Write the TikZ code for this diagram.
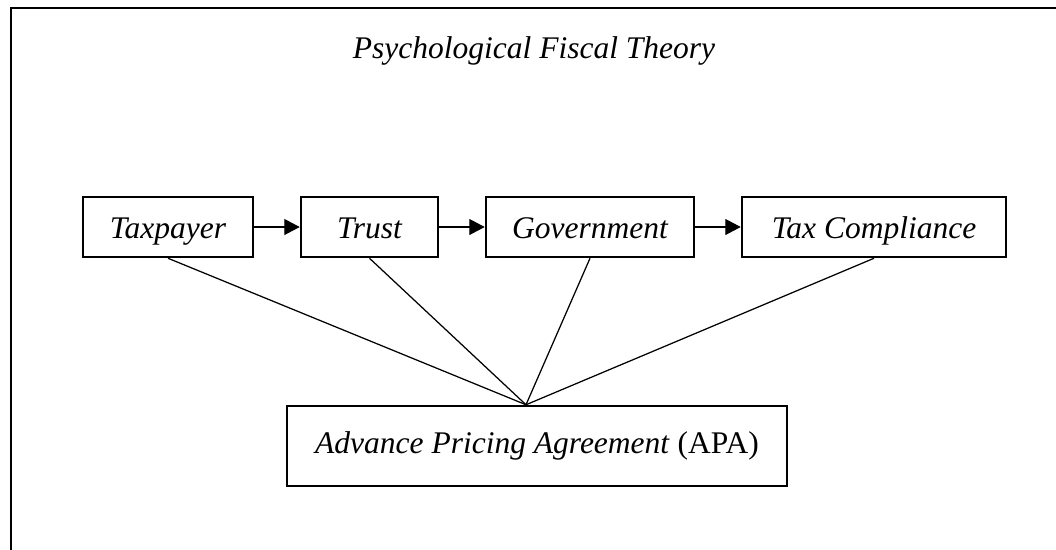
\documentclass[tikz,border=0pt]{standalone}
\usepackage{fontspec}
\setmainfont{Liberation Serif}
\usepackage{tikz}
\usetikzlibrary{arrows.meta,positioning}
\newcommand{\boxfont}{\fontsize{12.6}{15}\selectfont\itshape}

\begin{document}
\begin{tikzpicture}[x=0.4pt,y=-0.4pt,node distance=18.2pt,>={Triangle[length=6.2pt,width=6.4pt]}]
\tikzstyle{box}=[draw,line width=1pt,minimum height=24pt,inner sep=0pt,text height=10pt,text depth=1pt,font=\boxfont]
\tikzstyle{link}=[line width=0.5pt]
\useasboundingbox (0,0) rectangle (1056,549);
\clip (0,0) rectangle (1056,549);
% frame round the whole figure (open to the right and below)
\draw[line width=1pt] (11,8) rectangle (1090,590);
\node[font=\boxfont,anchor=base] (title) at (534,58) {Psychological Fiscal Theory};
\node[box,minimum width=68pt] (taxpayer) at (168,227) {Taxpayer};
\node[box,minimum width=54.8pt,right=of taxpayer] (trust) {Trust};
\node[box,minimum width=83.2pt,right=of trust] (gov) {Government};
\node[box,minimum width=105.6pt,right=of gov] (comply) {Tax Compliance};
\node[draw,line width=1pt,minimum width=200pt,minimum height=32pt,font=\boxfont] (apa) at (537,446) {Advance Pricing Agreement \textup{(APA)}};
\draw[->,link] (taxpayer) -- (trust);
\draw[->,link] (trust) -- (gov);
\draw[->,link] (gov) -- (comply);
% every box leans on the APA
\draw[link] (taxpayer.south) -- ([xshift=-4.4pt]apa.north);
\draw[link] (trust.south) -- ([xshift=-4.4pt]apa.north);
\draw[link] (gov.south) -- ([xshift=-4.4pt]apa.north);
\draw[link] (comply.south) -- ([xshift=-4.4pt]apa.north);
\end{tikzpicture}
\end{document}
